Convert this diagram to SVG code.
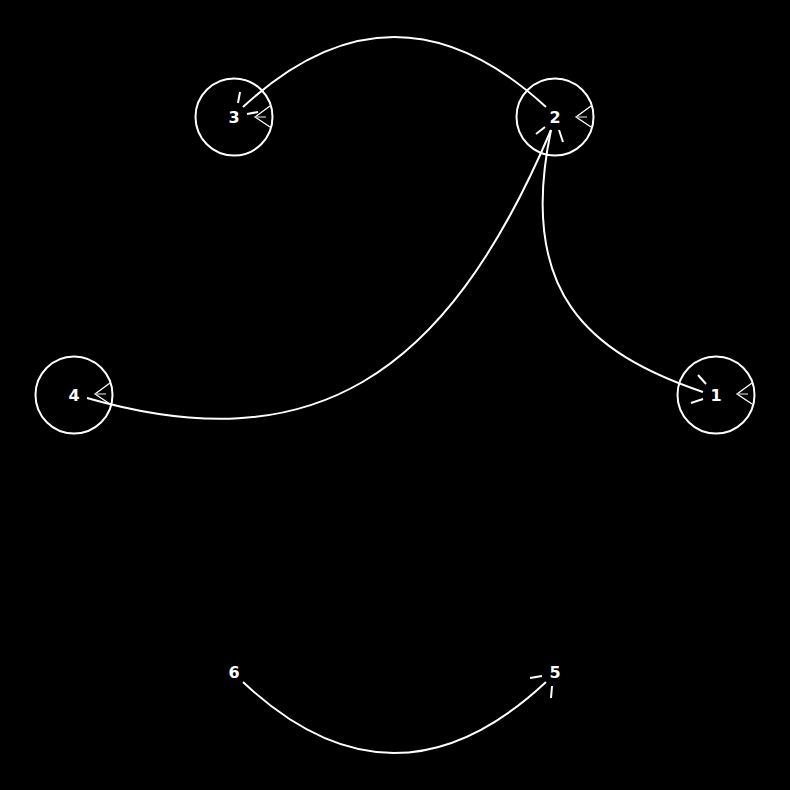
<svg xmlns="http://www.w3.org/2000/svg" width="790" height="790" viewBox="0 0 790 790">
<style>
.bg{fill:#000}
.ring{fill:none;stroke:#fff;stroke-width:2}
.edge{fill:none;stroke:#fff;stroke-width:2}
.tick{fill:none;stroke:#fff;stroke-width:2}
.head{fill:none;stroke:#fff;stroke-width:1.3}
.mid{fill:none;stroke:#bbb;stroke-width:1.3}
.lbl{fill:#fff;font-family:"DejaVu Sans",sans-serif;font-weight:bold;font-size:16px;text-anchor:middle;dominant-baseline:central}
</style>
<defs>
<g id="loophead">
<polyline class="head" points="36,-11 21,0 36,10"/>
<line class="mid" x1="21" y1="0" x2="32" y2="0"/>
</g>
</defs>
<rect class="bg" x="0" y="0" width="790" height="790"/>
<g id="connectors">
<path class="edge" d="M243,107 Q394,-33 546,107"/>
<path class="edge" d="M551,130 C445,380 310,462 87,398"/>
<path class="edge" d="M551,130 C517,292 588,353 703,392"/>
<path class="edge" d="M243,682 Q394,824 546,682"/>
<line class="tick" x1="240" y1="92" x2="238" y2="103"/>
<line class="tick" x1="247" y1="114" x2="258" y2="112"/>
<line class="tick" x1="536" y1="134" x2="545" y2="127"/>
<line class="tick" x1="559" y1="130" x2="563" y2="142"/>
<line class="tick" x1="698" y1="375" x2="706" y2="384"/>
<line class="tick" x1="691" y1="403" x2="703" y2="399"/>
<line class="tick" x1="530" y1="678" x2="542" y2="676"/>
<line class="tick" x1="552" y1="686" x2="551" y2="698"/>
</g>
<g id="node1">
<circle class="ring" cx="716" cy="395" r="38.5"/>
<use href="#loophead" transform="translate(716,394)"/>
<text class="lbl" x="716" y="395">1</text>
</g>
<g id="node2">
<circle class="ring" cx="555" cy="117" r="38.5"/>
<use href="#loophead" transform="translate(555,117)"/>
<text class="lbl" x="555" y="117">2</text>
</g>
<g id="node3">
<circle class="ring" cx="234" cy="117" r="38.5"/>
<use href="#loophead" transform="translate(234,117)"/>
<text class="lbl" x="234" y="117">3</text>
</g>
<g id="node4">
<circle class="ring" cx="74" cy="395" r="38.5"/>
<use href="#loophead" transform="translate(74,394)"/>
<text class="lbl" x="74" y="395">4</text>
</g>
<g id="node5">
<text class="lbl" x="555" y="672">5</text>
</g>
<g id="node6">
<text class="lbl" x="234" y="672">6</text>
</g>
</svg>
